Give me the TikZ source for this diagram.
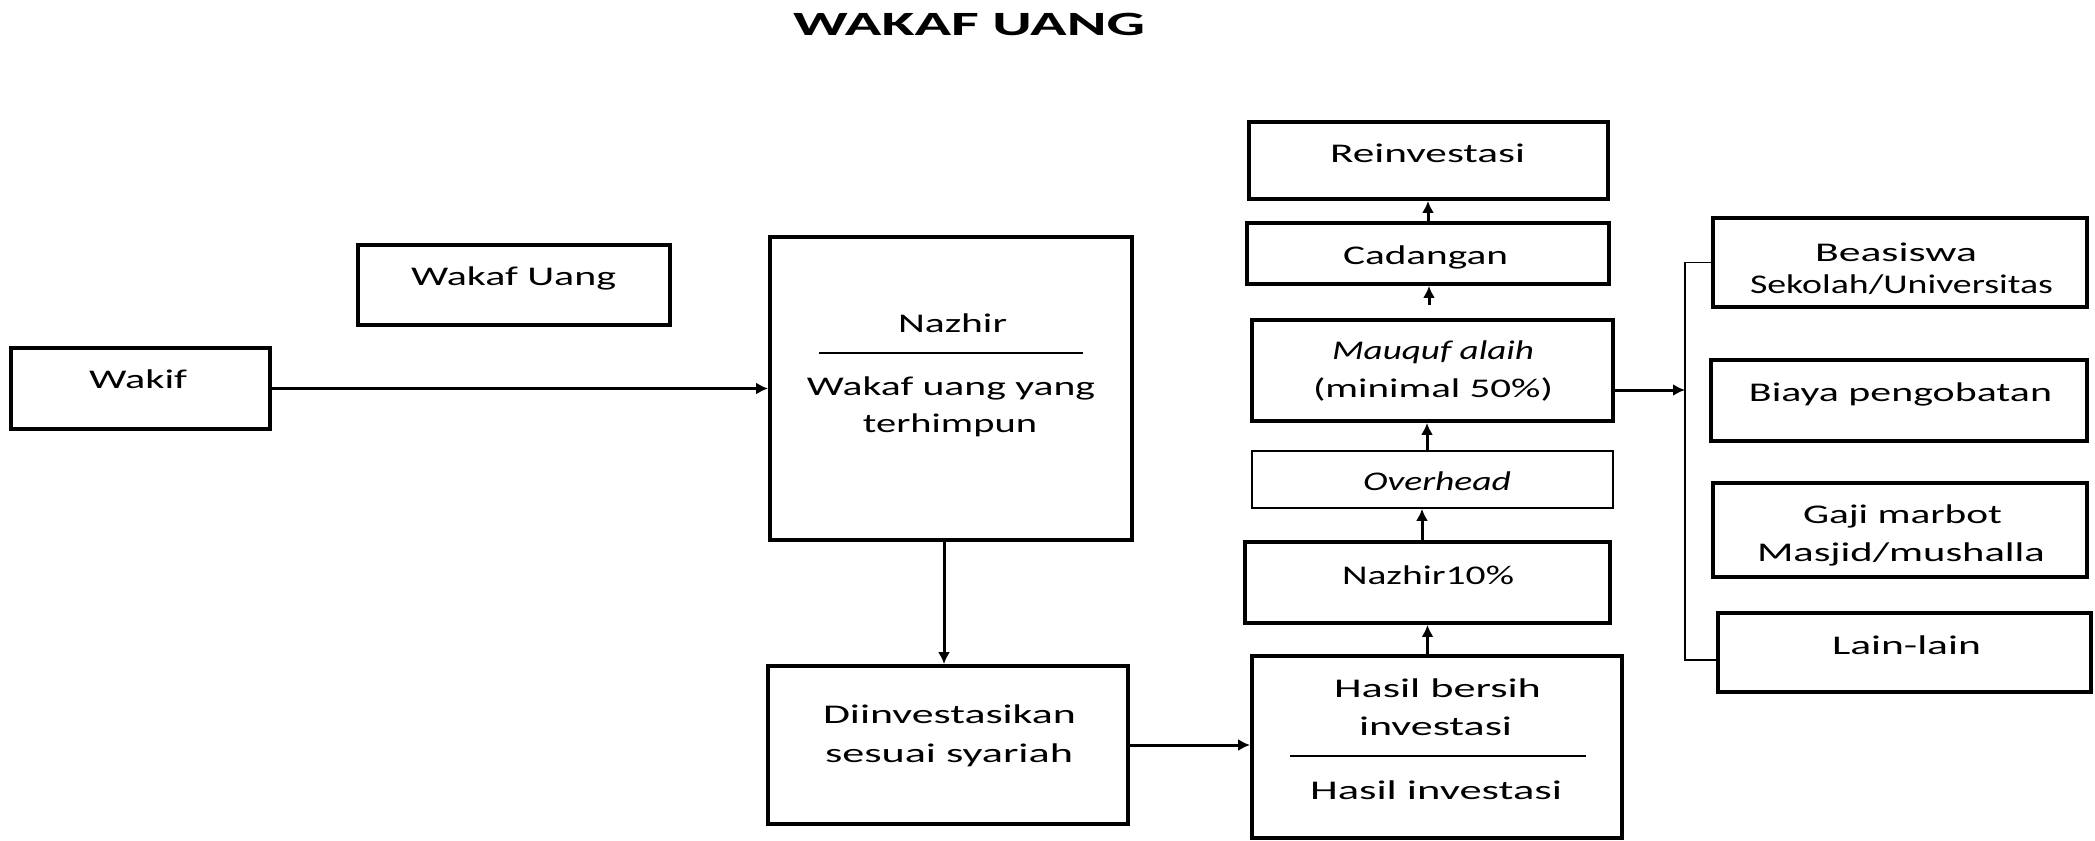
\documentclass[tikz,border=0pt]{standalone}
\usepackage{fontspec}
\setmainfont{Carlito}
\usetikzlibrary{arrows.meta}
\newcommand\tw[2]{\resizebox{#1pt}{\height}{#2}}
\begin{document}
\begin{tikzpicture}[x=0.5pt,y=-0.5pt,
  box/.style 2 args={draw, line width=1.9pt, inner sep=0pt, minimum width=#1*0.5pt, minimum height=#2*0.5pt},
  thinbox/.style 2 args={draw, line width=0.8pt, inner sep=0pt, minimum width=#1*0.5pt, minimum height=#2*0.5pt},
  txt/.style={anchor=base, inner sep=0pt, font=\fontsize{13.5}{16}\selectfont},
  ttl/.style={anchor=base, inner sep=0pt, font=\fontsize{17}{20}\selectfont\bfseries},
  arr/.style={line width=1.5pt, -{Latex[length=6pt,width=6pt]}},
  sep/.style={line width=0.8pt},
  brk/.style={line width=0.8pt}]
\useasboundingbox (0,0) rectangle (2095,841);
% title
\node[ttl] (title) at (969,35) {\tw{176}{WAKAF UANG}};
% boxes
\node[box={259}{81}] (wakif) at (140.5,388.5) {};
\node[box={312}{80}] (wu) at (514,285) {};
\node[box={362}{303}] (nazhir) at (951,388.5) {};
\node[box={360}{158}] (diinv) at (948,745) {};
\node[box={370}{182}] (hasil) at (1437,747) {};
\node[box={365}{81}] (n10) at (1427.5,582.5) {};
\node[thinbox={361}{57}] (over) at (1432.5,479.5) {};
\node[box={361}{101}] (mauq) at (1432.5,370.5) {};
\node[box={362}{61}] (cad) at (1428,253.5) {};
\node[box={359}{77}] (rein) at (1428.5,160.5) {};
\node[box={374}{89}] (beas) at (1900,262.5) {};
\node[box={376}{81}] (biaya) at (1899,400.5) {};
\node[box={374}{94}] (gaji) at (1900,530) {};
\node[box={373}{79}] (lain) at (1904.5,652.5) {};
% texts
\node[txt] (t1) at (138,388) {\tw{49}{Wakif}};
\node[txt] (t2) at (513.5,285) {\tw{102.5}{Wakaf Uang}};
\node[txt] (t3) at (952.5,332) {\tw{54.5}{Nazhir}};
\node[txt] (t4) at (951,395) {\tw{144}{Wakaf uang yang}};
\node[txt] (t5) at (950,432) {\tw{87}{terhimpun}};
\node[txt] (t6) at (949.5,723) {\tw{126.5}{Diinvestasikan}};
\node[txt] (t7) at (949,762) {\tw{124}{sesuai syariah}};
\node[txt] (t8) at (1437.5,697) {\tw{103.5}{Hasil bersih}};
\node[txt] (t9) at (1435.5,735) {\tw{76.5}{investasi}};
\node[txt] (t10) at (1436,799) {\tw{126}{Hasil investasi}};
\node[txt] (t11) at (1428,584) {\tw{86}{Nazhir10\%}};
\node[txt] (t12) at (1437,490) {\tw{74}{\itshape Overhead}};
\node[txt] (t13) at (1433,359) {\tw{101}{\itshape Mauquf alaih}};
\node[txt] (t14) at (1433,397) {\tw{120}{(minimal 50\%)}};
\node[txt] (t15) at (1425.5,264) {\tw{82.5}{Cadangan}};
\node[txt] (t16) at (1427.5,162) {\tw{97.5}{Reinvestasi}};
\node[txt] (t17) at (1896,261) {\tw{81}{Beasiswa}};
\node[txt] (t18) at (1901.5,293) {\tw{151.5}{Sekolah/Universitas}};
\node[txt] (t19) at (1900.5,401) {\tw{151.5}{Biaya pengobatan}};
\node[txt] (t20) at (1902.5,523) {\tw{99.5}{Gaji marbot}};
\node[txt] (t21) at (1901,561) {\tw{144}{Masjid/mushalla}};
\node[txt] (t22) at (1906.5,654) {\tw{74.5}{Lain-lain}};
% separator lines
\coordinate (s1a) at (819,353); \coordinate (s1b) at (1083,353);
\coordinate (s2a) at (1290,756); \coordinate (s2b) at (1586,756);
\draw[sep] (s1a) -- (s1b);
\draw[sep] (s2a) -- (s2b);
% connectors
\draw[arr] (wakif.east) -- (wakif.east -| nazhir.west);
\draw[arr] ([xshift=-3.5pt]nazhir.south) -- ([xshift=-3.5pt]nazhir.south |- diinv.north);
\draw[arr] (diinv.east) -- (diinv.east -| hasil.west);
\draw[arr] (n10.south |- hasil.north) -- (n10.south);
\draw[arr] ([xshift=-2.75pt]n10.north) -- ([xshift=-2.75pt]n10.north |- over.south);
\draw[arr] ([xshift=-2.75pt]over.north) -- ([xshift=-2.75pt]over.north |- mauq.south);
\draw[arr, shorten <=6.5pt] ([xshift=-1.75pt]mauq.north) -- ([xshift=-1.75pt]mauq.north |- cad.south);
\draw[arr] (cad.north) -- (cad.north |- rein.south);
\coordinate (bb) at (1685,660);
\draw[brk] (beas.west) -| (bb) -- (bb -| lain.west);
\draw[arr] ([yshift=-9.75pt]mauq.east) -- ([yshift=-9.75pt]mauq.east -| bb);
\end{tikzpicture}
\end{document}
